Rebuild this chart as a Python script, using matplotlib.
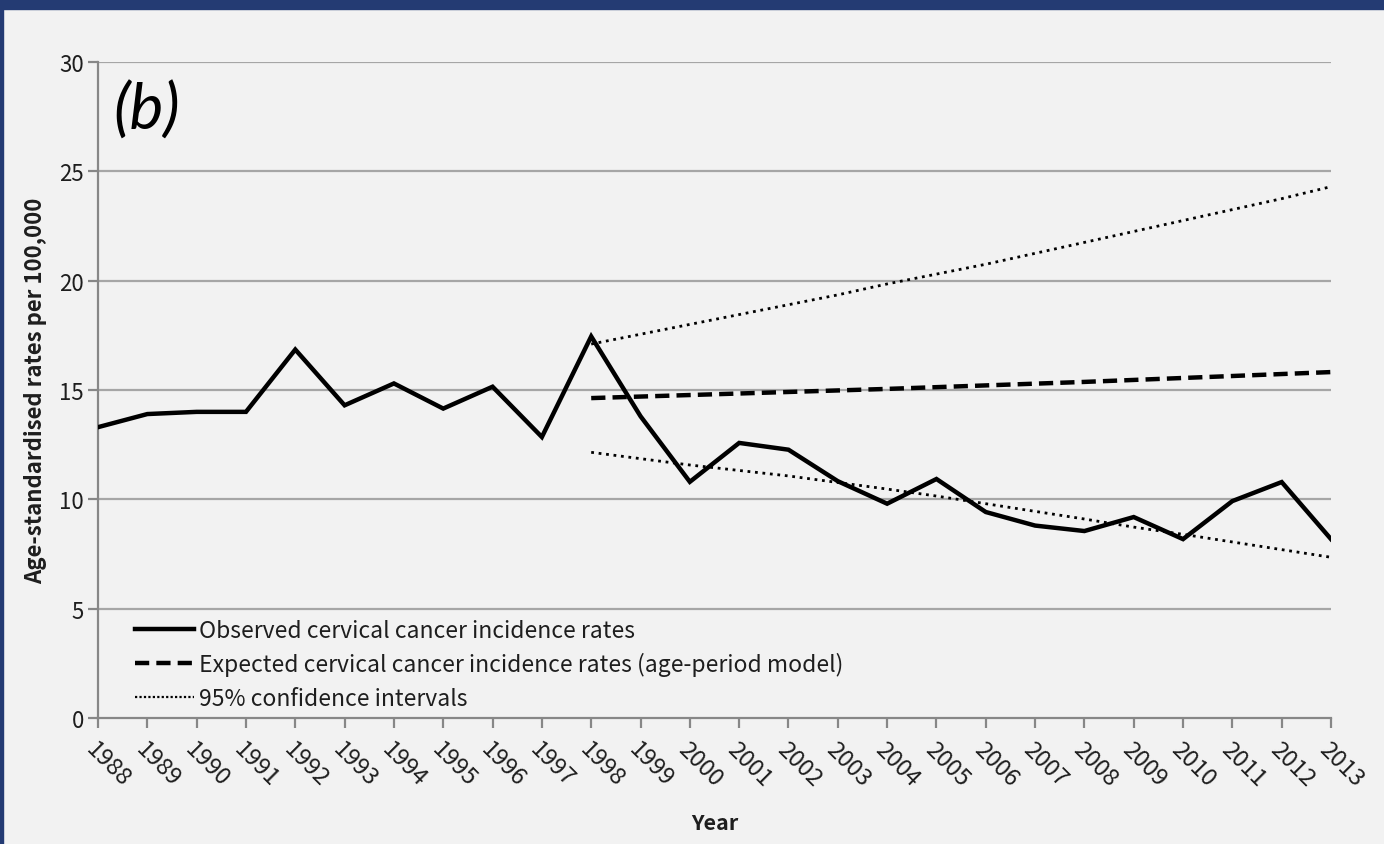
import matplotlib
matplotlib.use("Agg")
import matplotlib.pyplot as plt
import matplotlib.patches as mpatches
from matplotlib.lines import Line2D

# Years shown on the x axis
years = list(range(1988, 2014))
year_labels = [str(y) for y in years]

# Observed age-standardised incidence (per 100,000)
observed = [13.3, 13.9, 14.0, 14.0, 16.85, 14.3, 15.3, 14.15, 15.15, 12.85,
            17.45, 13.8, 10.8, 12.58, 12.27, 10.83, 9.8, 10.93, 9.42, 8.8,
            8.55, 9.19, 8.18, 9.92, 10.79, 8.18]

# Projection period (age-period model)
proj_years = list(range(1998, 2014))
expected = [14.63, 14.70, 14.77, 14.84, 14.91, 14.98, 15.05, 15.13, 15.21,
            15.29, 15.37, 15.46, 15.55, 15.64, 15.73, 15.82]
ci_upper = [17.1, 17.55, 18.0, 18.45, 18.9, 19.35, 19.85, 20.3, 20.75, 21.25,
            21.75, 22.25, 22.75, 23.25, 23.75, 24.3]
ci_lower = [12.15, 11.86, 11.57, 11.32, 11.07, 10.77, 10.47, 10.15, 9.8, 9.45,
            9.1, 8.73, 8.4, 8.05, 7.7, 7.35]

y_ticks = [0, 5, 10, 15, 20, 25, 30]

legend_labels = ["Observed cervical cancer incidence rates",
                 "Expected cervical cancer incidence rates (age-period model)",
                 "95% confidence intervals"]

FONT = ["Noto Sans CJK SC", "Lato", "DejaVu Sans"]
plt.rcParams["font.family"] = FONT

BG = "#f2f2f2"
NAVY = "#243b73"
GRID = "#a6a6a6"
SPINE = "#878787"
TXT = "#1e1e1e"

SOLID = dict(color="black", lw=3.2)
DASHED = dict(color="black", lw=3.2, dashes=(3.2, 1.6))
DOTTED = dict(color="black", lw=2.0, dashes=(1, 1.7))

fig = plt.figure(figsize=(13.84, 8.45), dpi=100, facecolor=BG)

# Navy frame: band across the top and thin strip on the left
fig.patches.append(mpatches.Rectangle((0, 1 - 10 / 845), 1, 10 / 845,
                                      transform=fig.transFigure,
                                      color=NAVY, zorder=0))
fig.patches.append(mpatches.Rectangle((0, 0), 2.5 / 1384, 1,
                                      transform=fig.transFigure,
                                      color=NAVY, zorder=0))

ax = fig.add_axes([98 / 1384, 1 - 719 / 845, (1331 - 98) / 1384, (719 - 63) / 845])
ax.set_facecolor(BG)

ax.set_xlim(years[0], years[-1])
ax.set_ylim(0, 30)

for v in y_ticks[1:]:
    ax.axhline(v, color=GRID, lw=1.6, zorder=1)

ax.plot(years, observed, solid_joinstyle="miter", zorder=4, **SOLID)
ax.plot(proj_years, expected, zorder=3, **DASHED)
ax.plot(proj_years, ci_upper, zorder=3, **DOTTED)
ax.plot(proj_years, ci_lower, zorder=3, **DOTTED)

for side in ("top", "right"):
    ax.spines[side].set_visible(False)
for side in ("left", "bottom"):
    ax.spines[side].set_color(SPINE)
    ax.spines[side].set_linewidth(1.6)

ax.set_yticks(y_ticks)
ax.set_yticklabels([str(v) for v in y_ticks])
ax.set_xticks(years)
ax.set_xticklabels(year_labels, rotation=-45, ha="left", va="top",
                   rotation_mode="anchor")
ax.tick_params(axis="both", colors=SPINE, length=7, width=1.6,
               labelcolor=TXT, labelsize=16)
ax.tick_params(axis="x", pad=7, labelsize=17)
ax.tick_params(axis="y", pad=3)

ax.set_ylabel("Age-standardised rates per 100,000", fontsize=16,
              fontweight="bold", color=TXT, labelpad=9)
ax.set_xlabel("Year", fontsize=15.5, fontweight="bold", color=TXT,
              labelpad=15)

ax.text(0.012, 0.972, "(b)", transform=ax.transAxes, fontsize=46,
        fontstyle="italic", va="top", ha="left", color="black",
        family=["Lato", "DejaVu Sans"])

handles = [
    Line2D([], [], **SOLID),
    Line2D([], [], **DASHED),
    Line2D([], [], color="black", lw=1.6, dashes=(1, 1.0)),
]
leg = ax.legend(handles, legend_labels, loc="lower left",
                bbox_to_anchor=(0.023, 0.0), frameon=False, fontsize=16.5,
                handlelength=2.6, handletextpad=0.2, labelspacing=0.46,
                borderaxespad=-0.04)
for t in leg.get_texts():
    t.set_color(TXT)

fig.savefig("out.png", dpi=100, facecolor=BG)
